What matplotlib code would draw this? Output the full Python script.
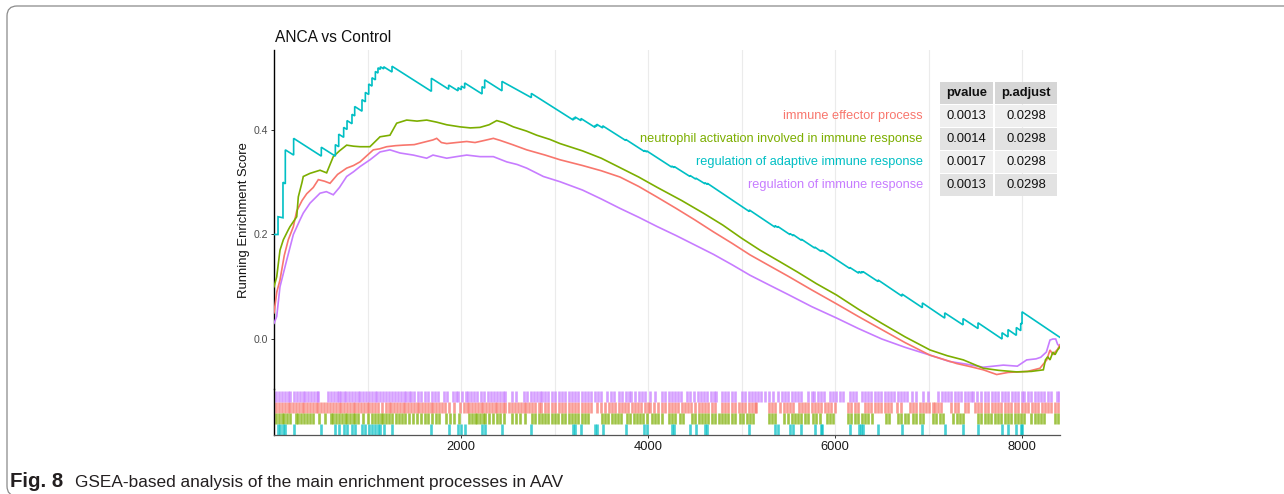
import matplotlib
matplotlib.use("Agg")
import matplotlib.pyplot as plt
from matplotlib.patches import Rectangle, FancyBboxPatch
from matplotlib.transforms import IdentityTransform

# ---------------- data ----------------
title = "ANCA vs Control"
set_names = ["immune effector process",
             "neutrophil activation involved in immune response",
             "regulation of adaptive immune response",
             "regulation of immune response"]
set_colors = ["#F8766D", "#7CAE00", "#00BFC4", "#C77CFF"]
pvalues = ["0.0013", "0.0014", "0.0017", "0.0013"]
padjust = ["0.0298", "0.0298", "0.0298", "0.0298"]
x_ticks = [2000, 4000, 6000, 8000]
y_ticks = [0.0, 0.2, 0.4]
n_genes = 8406

red_rank = [0, 30, 64, 110, 153, 207, 243, 300, 350, 420, 474, 540, 599, 680, 777, 850, 920,
            1000, 1062, 1130, 1205, 1300, 1383, 1500, 1633, 1700, 1740, 1790, 1847, 1950, 2061,
            2150, 2250, 2346, 2420, 2550, 2703, 2900, 3059, 3300, 3500, 3700, 3900, 4093, 4300,
            4500, 4700, 4900, 5091, 5300, 5500, 5750, 6018, 6250, 6500, 6750, 7016, 7302, 7450,
            7586, 7729, 7850, 7943, 8060, 8192, 8264, 8299, 8330, 8353, 8380, 8406]
red_es = [0.05, 0.09, 0.113, 0.16, 0.19, 0.215, 0.245, 0.265, 0.278, 0.29, 0.305, 0.302, 0.298,
          0.315, 0.327, 0.332, 0.339, 0.352, 0.362, 0.364, 0.368, 0.37, 0.371, 0.372, 0.378,
          0.381, 0.384, 0.376, 0.374, 0.376, 0.378, 0.376, 0.38, 0.384, 0.38, 0.372, 0.362,
          0.352, 0.343, 0.332, 0.322, 0.31, 0.292, 0.272, 0.25, 0.228, 0.205, 0.183, 0.161,
          0.14, 0.12, 0.094, 0.067, 0.043, 0.018, -0.007, -0.031, -0.047, -0.053, -0.059,
          -0.068, -0.064, -0.063, -0.062, -0.056, -0.040, -0.021, -0.03, -0.025, -0.02, -0.011]

green_rank = [0, 29, 64, 100, 153, 171, 243, 260, 300, 313, 385, 492, 563, 634, 700, 777, 850,
              920, 1026, 1134, 1240, 1312, 1419, 1530, 1633, 1740, 1847, 1990, 2100, 2203, 2300,
              2382, 2460, 2560, 2700, 2810, 2950, 3059, 3300, 3500, 3700, 3900, 4100, 4360, 4600,
              4800, 5000, 5198, 5400, 5600, 5800, 6018, 6250, 6500, 6750, 7016, 7200, 7372, 7586,
              7750, 7943, 8100, 8228, 8250, 8275, 8299, 8330, 8353, 8380, 8406]
green_es = [0.10, 0.119, 0.17, 0.19, 0.209, 0.215, 0.234, 0.272, 0.30, 0.311, 0.317, 0.323,
            0.318, 0.349, 0.36, 0.371, 0.369, 0.368, 0.368, 0.387, 0.39, 0.413, 0.419, 0.417,
            0.419, 0.415, 0.41, 0.406, 0.404, 0.405, 0.41, 0.418, 0.414, 0.406, 0.398, 0.39,
            0.382, 0.374, 0.36, 0.346, 0.328, 0.31, 0.29, 0.265, 0.24, 0.218, 0.193, 0.170,
            0.149, 0.128, 0.106, 0.084, 0.057, 0.03, 0.004, -0.021, -0.032, -0.040, -0.056,
            -0.06, -0.063, -0.062, -0.059, -0.04, -0.034, -0.04, -0.025, -0.03, -0.021, -0.015]

teal_rank = [0, 43, 43, 96, 96, 121, 121, 210, 210, 506, 506, 656, 656, 692, 692, 745, 745,
             781, 781, 834, 834, 863, 863, 941, 941, 977, 977, 1013, 1013, 1048, 1048, 1084, 1084,
             1112, 1112, 1137, 1137, 1173, 1173, 1262, 1262, 1683, 1683, 1868, 1868, 1968, 1968,
             2003, 2003, 2039, 2039, 2225, 2225, 2253, 2253, 2438, 2438, 2752, 2752, 3201, 3201,
             3219, 3219, 3283, 3283, 3433, 3433, 3451, 3451, 3515, 3515, 3761, 3761, 3960, 3960,
             3986, 3986, 4253, 4253, 4281, 4281, 4449, 4449, 4510, 4510, 4610, 4610, 4634, 4634,
             5083, 5083, 5358, 5358, 5387, 5387, 5519, 5519, 5554, 5554, 5640, 5640, 5783, 5783,
             5847, 5847, 5861, 5861, 6157, 6157, 6253, 6253, 6281, 6281, 6299, 6299, 6460, 6460,
             6716, 6716, 6934, 6934, 7173, 7173, 7369, 7369, 7529, 7529, 7786, 7786, 7850, 7850,
             7939, 7939, 7986, 7986, 8000, 8000, 8406]
teal_es = [0.200, 0.200, 0.234, 0.232, 0.300, 0.297, 0.362, 0.352, 0.384, 0.350, 0.367, 0.350,
           0.372, 0.368, 0.392, 0.386, 0.405, 0.401, 0.418, 0.412, 0.430, 0.427, 0.445, 0.436,
           0.458, 0.454, 0.472, 0.468, 0.488, 0.484, 0.500, 0.496, 0.512, 0.509, 0.519, 0.516,
           0.521, 0.517, 0.521, 0.511, 0.522, 0.474, 0.499, 0.478, 0.486, 0.475, 0.481, 0.477,
           0.484, 0.480, 0.490, 0.469, 0.483, 0.480, 0.496, 0.475, 0.493, 0.462, 0.470, 0.419,
           0.423, 0.421, 0.425, 0.418, 0.422, 0.405, 0.409, 0.407, 0.411, 0.404, 0.408, 0.380,
           0.382, 0.359, 0.361, 0.358, 0.360, 0.329, 0.331, 0.328, 0.330, 0.311, 0.313, 0.306,
           0.308, 0.297, 0.299, 0.296, 0.298, 0.244, 0.247, 0.214, 0.217, 0.2135, 0.2155, 0.1997,
           0.2017, 0.1975, 0.1995, 0.189, 0.191, 0.174, 0.176, 0.168, 0.170, 0.168, 0.170, 0.135,
           0.137, 0.126, 0.129, 0.126, 0.129, 0.127, 0.129, 0.110, 0.113, 0.082, 0.086, 0.060,
           0.069, 0.040, 0.050, 0.027, 0.039, 0.020, 0.031, 0.000, 0.012, 0.004, 0.018, 0.007,
           0.022, 0.016, 0.030, 0.029, 0.052, 0.003]

purple_rank = [0, 29, 64, 136, 207, 278, 313, 385, 492, 560, 634, 700, 777, 850, 920, 1027,
               1134, 1240, 1347, 1490, 1633, 1700, 1847, 1950, 2061, 2204, 2346, 2489, 2600, 2703,
               2881, 3059, 3300, 3500, 3700, 3900, 4100, 4300, 4500, 4700, 4900, 5091, 5300, 5500,
               5750, 6018, 6250, 6500, 6750, 7000, 7223, 7400, 7586, 7800, 7950, 8050, 8150, 8200,
               8260, 8299, 8330, 8360, 8380, 8406]
purple_es = [0.03, 0.043, 0.10, 0.151, 0.2, 0.228, 0.241, 0.26, 0.279, 0.282, 0.276, 0.29,
             0.311, 0.32, 0.33, 0.343, 0.358, 0.362, 0.356, 0.352, 0.346, 0.352, 0.346, 0.349,
             0.352, 0.349, 0.349, 0.339, 0.334, 0.327, 0.311, 0.301, 0.285, 0.268, 0.25, 0.233,
             0.215, 0.198, 0.18, 0.162, 0.142, 0.122, 0.103, 0.085, 0.062, 0.04, 0.02, 0.0,
             -0.016, -0.03, -0.043, -0.048, -0.054, -0.05, -0.052, -0.04, -0.038, -0.035, -0.025,
             -0.002, 0.0, 0.0, -0.01, -0.015]

# gene-set hit positions (rug)
red_hits = [25, 55, 85, 115, 145, 175, 205, 235, 265, 295, 325, 355, 385, 415, 445, 475, 505, 540,
            570, 600, 630, 660, 690, 720, 750, 780, 810, 840, 870, 900, 930, 960, 990, 1020, 1050,
            1080, 1110, 1150, 1195, 1225, 1255, 1285, 1315, 1345, 1375, 1405, 1435, 1465, 1495,
            1525, 1555, 1585, 1615, 1645, 1675, 1705, 1735, 1760, 1800, 1830, 1870, 1930, 1990,
            2030, 2060, 2090, 2120, 2150, 2180, 2210, 2240, 2270, 2300, 2330, 2360, 2390, 2420,
            2450, 2475, 2510, 2550, 2580, 2610, 2640, 2670, 2700, 2730, 2760, 2790, 2830, 2860,
            2900, 2935, 2970, 3000, 3045, 3080, 3115, 3150, 3185, 3220, 3255, 3290, 3325, 3360,
            3395, 3455, 3500, 3545, 3580, 3615, 3650, 3685, 3720, 3755, 3790, 3825, 3860, 3895,
            3930, 3965, 4000, 4025, 4065, 4105, 4150, 4185, 4220, 4255, 4285, 4325, 4360, 4395,
            4430, 4465, 4500, 4540, 4575, 4610, 4645, 4680, 4715, 4790, 4825, 4860, 4895, 4930,
            4970, 5005, 5040, 5075, 5110, 5145, 5160, 5290, 5325, 5355, 5415, 5450, 5485, 5520,
            5555, 5610, 5645, 5680, 5715, 5750, 5785, 5820, 5855, 5890, 5925, 5960, 5995, 6140,
            6175, 6210, 6245, 6320, 6355, 6390, 6425, 6460, 6495, 6530, 6565, 6600, 6660, 6705,
            6800, 6835, 6870, 6905, 6940, 6975, 7010, 7045, 7065, 7105, 7135, 7245, 7280, 7315,
            7390, 7420, 7495, 7530, 7565, 7600, 7640, 7675, 7710, 7745, 7780, 7815, 7850, 7885,
            7925, 7960, 7995, 8030, 8060, 8105, 8140, 8175, 8210, 8245, 8280, 8315, 8350, 8385,
            8415]
green_hits = [25, 55, 85, 110, 140, 170, 230, 260, 290, 320, 350, 380, 420, 478, 549, 605, 635,
              665, 695, 725, 755, 785, 815, 845, 870, 900, 950, 1000, 1045, 1080, 1110, 1140,
              1170, 1200, 1230, 1260, 1300, 1335, 1370, 1400, 1445, 1490, 1530, 1570, 1610, 1650,
              1695, 1730, 1760, 1835, 1880, 1922, 1975, 2085, 2115, 2145, 2175, 2205, 2235, 2260,
              2300, 2340, 2380, 2420, 2460, 2550, 2590, 2630, 2680, 2760, 2795, 2830, 2865, 2900,
              2935, 2970, 3005, 3040, 3080, 3110, 3150, 3185, 3220, 3255, 3290, 3325, 3360, 3505,
              3540, 3575, 3610, 3645, 3680, 3715, 3775, 3810, 3845, 3880, 3915, 3950, 3985, 4040,
              4075, 4110, 4145, 4220, 4255, 4285, 4345, 4375, 4470, 4505, 4540, 4575, 4610, 4645,
              4685, 4720, 4755, 4790, 4825, 4860, 4895, 4930, 4985, 5020, 5055, 5090, 5125, 5290,
              5325, 5355, 5450, 5495, 5540, 5570, 5605, 5640, 5680, 5710, 5765, 5800, 5835, 5910,
              5945, 5980, 6140, 6170, 6215, 6250, 6285, 6320, 6355, 6400, 6550, 6580, 6675, 6710,
              6745, 6780, 6835, 6870, 6905, 6940, 7050, 7080, 7120, 7150, 7265, 7300, 7335, 7370,
              7530, 7565, 7600, 7635, 7670, 7710, 7745, 7780, 7815, 7850, 7885, 7920, 7955, 7990,
              8025, 8100, 8135, 8170, 8205, 8240, 8350, 8385, 8415]
teal_hits = [43, 67, 96, 121, 210, 506, 656, 692, 745, 781, 834, 863, 941, 977, 1013, 1048, 1084,
             1112, 1137, 1173, 1262, 1683, 1868, 1968, 2003, 2039, 2225, 2253, 2438, 2752, 3201,
             3219, 3283, 3433, 3451, 3515, 3761, 3960, 3986, 4253, 4281, 4449, 4510, 4610, 4634,
             5083, 5358, 5387, 5519, 5554, 5640, 5783, 5847, 5861, 6157, 6253, 6281, 6299, 6460,
             6716, 6934, 7173, 7369, 7529, 7786, 7850, 7939, 7986, 8000]
purple_hits = [25, 55, 85, 115, 145, 175, 215, 250, 275, 305, 335, 365, 395, 425, 455, 475, 575,
               605, 640, 670, 690, 715, 745, 775, 805, 835, 865, 895, 925, 955, 985, 1015, 1045,
               1075, 1105, 1135, 1165, 1195, 1230, 1265, 1295, 1325, 1355, 1385, 1415, 1445, 1470,
               1500, 1540, 1575, 1610, 1650, 1690, 1725, 1755, 1820, 1850, 1910, 1945, 1970, 2015,
               2050, 2080, 2110, 2140, 2175, 2210, 2250, 2285, 2320, 2355, 2390, 2420, 2450, 2470,
               2550, 2590, 2675, 2710, 2745, 2780, 2810, 2840, 2870, 2900, 2930, 2975, 3000, 3045,
               3080, 3115, 3150, 3185, 3220, 3255, 3290, 3325, 3360, 3395, 3430, 3465, 3500, 3560,
               3600, 3640, 3690, 3725, 3760, 3795, 3820, 3865, 3900, 3935, 3965, 4025, 4070, 4150,
               4185, 4220, 4255, 4290, 4325, 4355, 4415, 4450, 4490, 4530, 4570, 4600, 4635, 4670,
               4705, 4730, 4790, 4825, 4860, 4895, 4925, 5005, 5040, 5075, 5110, 5145, 5180, 5210,
               5255, 5295, 5335, 5395, 5430, 5465, 5500, 5535, 5570, 5605, 5640, 5715, 5750, 5780,
               5820, 5855, 5885, 5945, 5980, 6015, 6050, 6085, 6160, 6195, 6225, 6285, 6320, 6355,
               6390, 6425, 6460, 6495, 6530, 6565, 6600, 6635, 6670, 6705, 6740, 6775, 6820, 6865,
               6945, 6990, 7105, 7140, 7175, 7210, 7245, 7280, 7315, 7350, 7385, 7420, 7455, 7480,
               7520, 7560, 7605, 7640, 7675, 7710, 7740, 7785, 7820, 7855, 7890, 7925, 7960, 7995,
               8025, 8065, 8100, 8135, 8170, 8205, 8240, 8275, 8310, 8370, 8400]

caption_bold = "Fig. 8"
caption_text = "GSEA-based analysis of the main enrichment processes in AAV"

# ---------------- figure ----------------
W, H = 1284, 494
fig = plt.figure(figsize=(W / 100, H / 100), dpi=100)
fig.patch.set_facecolor("white")
FONT = ["Liberation Sans", "DejaVu Sans"]


def fx(px):
    return px / W


def fy(py):
    return 1 - py / H


L, R = 274, 1060
ax = fig.add_axes([fx(L), fy(389), fx(R) - fx(L), fy(50) - fy(389)])
axb = fig.add_axes([fx(L), fy(435), fx(R) - fx(L), fy(389) - fy(435)])

grid_x = [1000, 2000, 3000, 4000, 5000, 6000, 7000, 8000]
for a in (ax, axb):
    a.set_xlim(0, n_genes)
    for g in grid_x:
        a.axvline(g, color="#ebebeb", lw=0.8, zorder=0)
    for s in ("top", "right"):
        a.spines[s].set_visible(False)
    a.spines["left"].set_color("black")
    a.spines["left"].set_linewidth(1.0)
    a.set_facecolor("none")

ax.set_ylim(-0.0957, 0.5531)
ax.spines["bottom"].set_visible(False)
ax.set_xticks([])
ax.set_yticks(y_ticks)
ax.set_yticklabels([f"{v:.1f}" for v in y_ticks], fontsize=7.6, color="#4d4d4d", family=FONT)
ax.tick_params(axis="y", length=2.5, width=0.7, color="#333333", pad=2)

series = [(red_rank, red_es), (green_rank, green_es), (teal_rank, teal_es), (purple_rank, purple_es)]
order = [3, 0, 1, 2]
for i in order:
    xr, ye = series[i]
    ax.plot(xr, ye, color=set_colors[i], lw=1.2, zorder=3, solid_joinstyle="miter")

# rug panel
axb.set_ylim(0, 4.18)
hits = [red_hits, green_hits, teal_hits, purple_hits]
rows = [2, 1, 0, 3]
for i in range(4):
    axb.vlines(hits[i], rows[i], rows[i] + 1, color=set_colors[i], lw=1.9, alpha=0.72, zorder=2)
axb.set_yticks([])
axb.spines["bottom"].set_color("#555555")
axb.spines["bottom"].set_linewidth(0.9)
axb.set_xticks(x_ticks)
axb.set_xticklabels([str(v) for v in x_ticks], fontsize=9.3, color="#1a1a1a", family=FONT)
axb.tick_params(axis="x", length=2.5, width=0.7, color="#333333", pad=2)

# title and y label
fig.text(fx(275), fy(41.5), title, fontsize=11.2, family=FONT, va="baseline", ha="left", color="#111111")
fig.text(fx(244), fy(220), "Running Enrichment Score", rotation=90, fontsize=9.4, family=FONT,
         va="center", ha="center", color="#111111")

# legend labels + table
row_tops = [105, 128, 151, 174]
row_h = 22
col1 = (940, 993)
col2 = (995, 1057)
hdr_top = 82
row_bg = ["#efefef", "#e2e2e2", "#efefef", "#e2e2e2"]
for c0, c1, lab in [(col1[0], col1[1], "pvalue"), (col2[0], col2[1], "p.adjust")]:
    fig.add_artist(Rectangle((fx(c0), fy(hdr_top + row_h)), fx(c1) - fx(c0), fy(hdr_top) - fy(hdr_top + row_h),
                             transform=fig.transFigure, facecolor="#d6d6d6", edgecolor="none"))
    fig.text(fx((c0 + c1) / 2), fy(hdr_top + row_h / 2), lab, fontsize=9.4, fontweight="bold",
             family=FONT, ha="center", va="center", color="#111111")
for k in range(4):
    top = row_tops[k]
    for c0, c1, val in [(col1[0], col1[1], pvalues[k]), (col2[0], col2[1], padjust[k])]:
        fig.add_artist(Rectangle((fx(c0), fy(top + row_h)), fx(c1) - fx(c0), fy(top) - fy(top + row_h),
                                 transform=fig.transFigure, facecolor=row_bg[k], edgecolor="none"))
        fig.text(fx((c0 + c1) / 2), fy(top + row_h / 2), val, fontsize=9.4, family=FONT,
                 ha="center", va="center", color="#111111")
    fig.text(fx(923), fy(top + row_h / 2), set_names[k], fontsize=9.2, family=FONT,
             ha="right", va="center", color=set_colors[k])

# caption (body fitted to the reference width, bold label a little larger)
t2 = fig.text(fx(75), fy(486.5), caption_text, fontsize=12, family=FONT,
              va="baseline", ha="left", color="#231f20")
rend = fig.canvas.get_renderer()
w2 = t2.get_window_extent(rend).width
cap_size = 12 * 488 / w2
t2.set_fontsize(cap_size)
fig.text(fx(10), fy(486.5), caption_bold, fontsize=cap_size * 1.18, fontweight="bold", family=FONT,
         va="baseline", ha="left", color="#231f20")

# rounded frame
frame = FancyBboxPatch((7, -2), 1400, 490, boxstyle="round,pad=0,rounding_size=10",
                       transform=IdentityTransform(), facecolor="none", edgecolor="#8a8a8a", lw=0.9)
fig.add_artist(frame)

fig.savefig("out.png", dpi=100, facecolor="white")
